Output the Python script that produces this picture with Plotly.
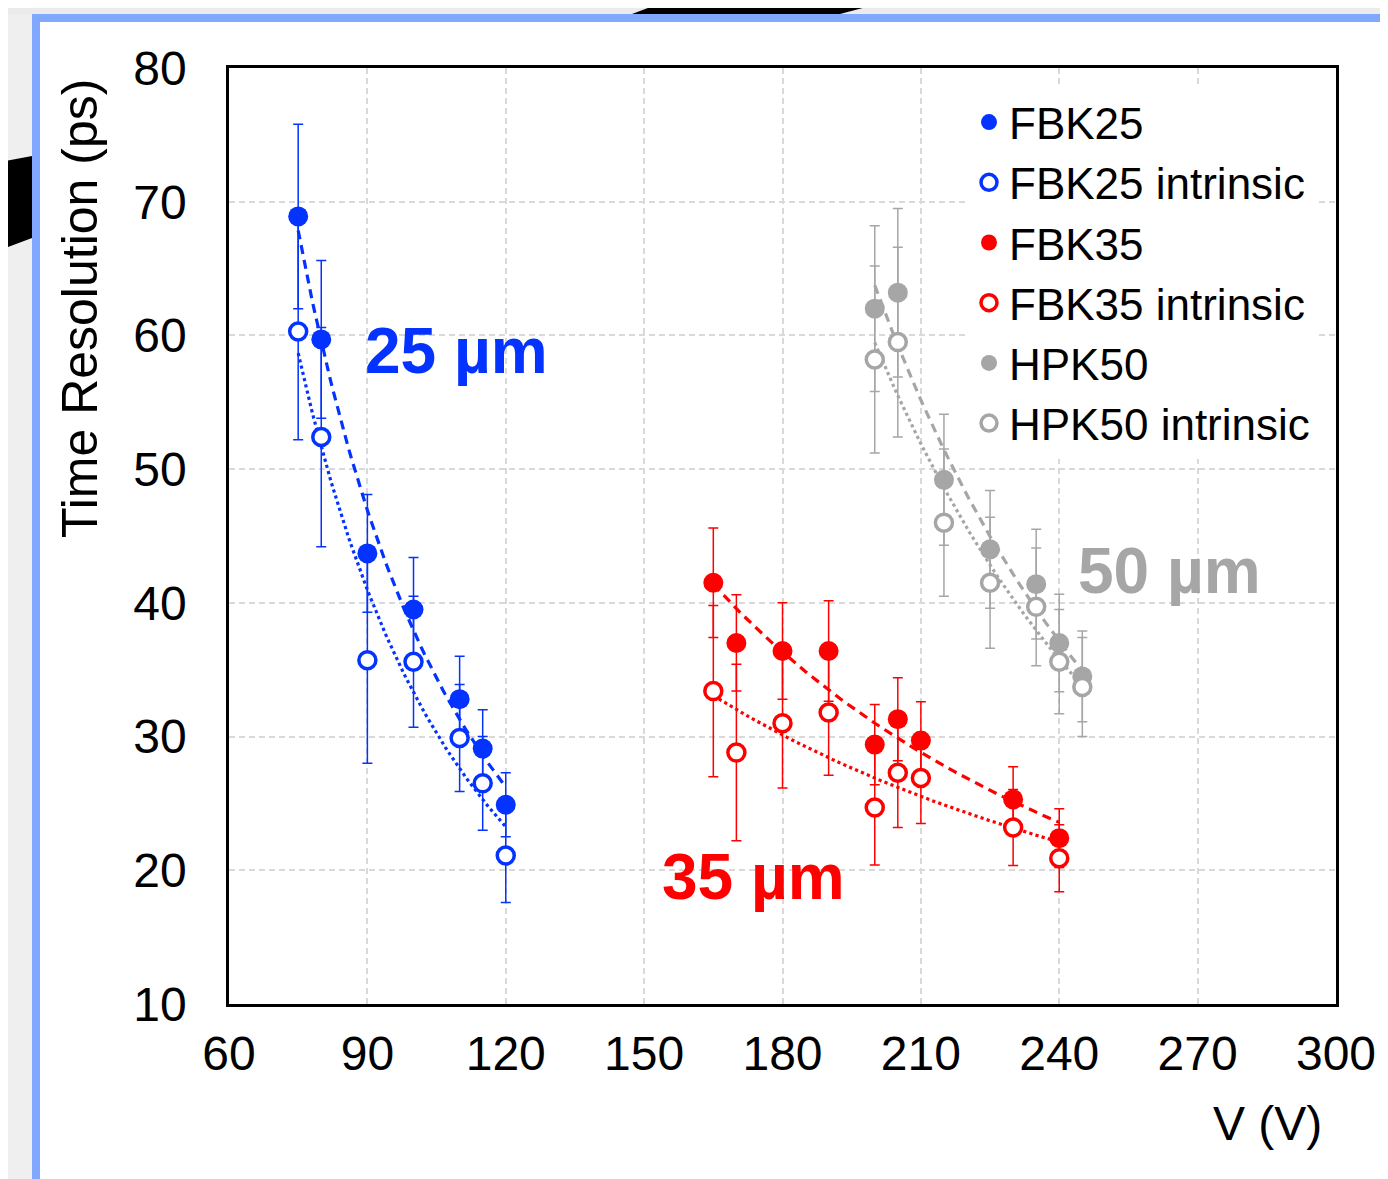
import numpy as np
import plotly.graph_objects as go

# bias voltage (V) and time resolution (ps)
fbk25_v = [75, 80, 90, 100, 110, 115, 120]
fbk25_t = [68.9, 59.7, 43.7, 39.5, 32.8, 29.1, 24.9]
fbk25_err = [6.9, 5.9, 4.4, 3.9, 3.2, 2.9, 2.4]
fbk25i_t = [60.3, 52.4, 35.7, 35.6, 29.9, 26.5, 21.1]
fbk25i_err = [8.1, 8.2, 7.7, 4.9, 4.0, 3.5, 3.5]

fbk35_v = [165, 170, 180, 190, 200, 205, 210, 230, 240]
fbk35_t = [41.5, 37.0, 36.4, 36.4, 29.4, 31.3, 29.7, 25.3, 22.4]
fbk35_err = [4.1, 3.6, 3.6, 3.75, 3.0, 3.1, 2.9, 2.45, 2.2]
fbk35i_t = [33.4, 28.8, 31.0, 31.8, 24.7, 27.3, 26.9, 23.2, 20.9]
fbk35i_err = [6.4, 6.6, 4.85, 4.7, 4.3, 4.1, 3.4, 2.85, 2.5]

hpk50_v = [200, 205, 215, 225, 235, 240, 245]
hpk50_t = [62.0, 63.2, 49.2, 44.0, 41.4, 37.0, 34.5]
hpk50_err = [6.2, 6.3, 4.9, 4.4, 4.1, 3.65, 3.4]
hpk50i_t = [58.2, 59.5, 46.0, 41.5, 39.7, 35.6, 33.7]
hpk50i_err = [7.0, 7.1, 5.5, 4.9, 4.4, 3.9, 3.7]

BLUE = "#0433ff"
RED = "#ff0000"
GRAY = "#a6a6a6"
FONT = "Liberation Sans, Arial, sans-serif"

# the page body adds an 8px margin, so the figure is drawn 8px smaller
OFF = 8
W, H = 1388 - OFF, 1179 - OFF
L, R, T, B = 229 - OFF, 1336 - OFF, 68 - OFF, 1004 - OFF


def px(x):
    # screen x (reference pixels) -> paper x
    return (x - OFF - L) / (R - L)


def py(y):
    return 1 - (y - OFF - T) / (B - T)


def power_fit(v, t):
    # Excel-style power trendline
    b, a = np.polyfit(np.log(v), np.log(t), 1)
    xs = np.linspace(min(v), max(v), 80)
    return xs, np.exp(a) * xs ** b


fig = go.Figure()

series = [
    ("FBK25", fbk25_v, fbk25_t, fbk25_err, BLUE, False, "dash"),
    ("FBK25 intrinsic", fbk25_v, fbk25i_t, fbk25i_err, BLUE, True, "dot"),
    ("FBK35", fbk35_v, fbk35_t, fbk35_err, RED, False, "dash"),
    ("FBK35 intrinsic", fbk35_v, fbk35i_t, fbk35i_err, RED, True, "dot"),
    ("HPK50", hpk50_v, hpk50_t, hpk50_err, GRAY, False, "dash"),
    ("HPK50 intrinsic", hpk50_v, hpk50i_t, hpk50i_err, GRAY, True, "dot"),
]

for i, (name, v, t, err, col, hollow, dash) in enumerate(series):
    xs, ys = power_fit(v, t)
    fig.add_trace(go.Scatter(x=xs, y=ys, mode="lines", showlegend=False,
                             line=dict(color=col, width=3.2,
                                       dash="9px,6px" if dash == "dash" else "dot"),
                             hoverinfo="skip"))
    if hollow:
        marker = dict(symbol="circle", size=17, color="white",
                      line=dict(color=col, width=3.5))
    else:
        marker = dict(symbol="circle", size=20, color=col,
                      line=dict(width=0))
    fig.add_trace(go.Scatter(x=v, y=t, mode="markers", name=name,
                             marker=marker, legendrank=i + 1,
                             legendgroup=name,
                             error_y=dict(type="data", array=err, visible=True,
                                          color=col, thickness=1.5, width=5)))

# thickness labels
for txt, x, y, col in [("25 µm", 109.4, 58.8, BLUE),
                       ("35 µm", 173.8, 19.5, RED),
                       ("50 µm", 264.0, 42.4, GRAY)]:
    fig.add_annotation(x=x, y=y, text="<b>" + txt + "</b>", showarrow=False,
                       font=dict(family=FONT, size=64, color=col))

fig.add_annotation(x=px(80), y=py(309), xref="paper", yref="paper",
                   xanchor="center", yanchor="middle",
                   text="Time Resolution (ps)", textangle=-90, showarrow=False,
                   font=dict(family=FONT, size=50, color="black"))
fig.add_annotation(x=px(1267), y=py(1123), xref="paper", yref="paper",
                   xanchor="center", yanchor="middle",
                   text="V (V)", showarrow=False,
                   font=dict(family=FONT, size=48, color="black"))


def rect(x0, x1, y0, y1, col):
    return dict(type="rect", xref="paper", yref="paper",
                x0=px(x0), x1=px(x1), y0=py(y1), y1=py(y0),
                fillcolor=col, line_width=0, layer="below")


def poly(pts, col):
    path = "M " + " L ".join("%f,%f" % (px(x), py(y)) for x, y in pts) + " Z"
    return dict(type="path", xref="paper", yref="paper", path=path,
                fillcolor=col, line_width=0, layer="below")


# slide decoration around the chart: grey page, black band, blue frame
shapes = [
    rect(0, 32, 0, 1179, "#efefef"),
    rect(0, 1388, 0, 14, "#ebebeb"),
    poly([(0, 162), (32, 156), (32, 238), (0, 250)], "black"),
    poly([(632, 14), (669, 0), (893, 0), (840, 14)], "black"),
    rect(32, 40, 14, 1179, "#80a8ff"),
    rect(32, 1388, 14, 22, "#80a8ff"),
]

fig.update_layout(
    width=W, height=H,
    margin=dict(l=L, r=W - R, t=T, b=H - B),
    paper_bgcolor="white", plot_bgcolor="white",
    font=dict(family=FONT, color="black"),
    shapes=shapes,
    showlegend=True,
    legend=dict(x=px(969), y=py(87), xanchor="left", yanchor="top",
                bgcolor="white", borderwidth=0, traceorder="grouped",
                tracegroupgap=0, font=dict(family=FONT, size=44, color="black"),
                itemsizing="trace"),
)

fig.update_xaxes(range=[60, 300], tickvals=list(range(60, 301, 30)),
                 showgrid=True, gridcolor="#d9d9d9", gridwidth=2,
                 griddash="6px,4px", zeroline=False,
                 showline=True, linecolor="black", linewidth=2.5, mirror=True,
                 ticks="", tickfont=dict(family=FONT, size=48),
                 ticklabelstandoff=6)
fig.update_yaxes(range=[10, 80], tickvals=list(range(10, 81, 10)),
                 showgrid=True, gridcolor="#d9d9d9", gridwidth=2,
                 griddash="6px,4px", zeroline=False,
                 showline=True, linecolor="black", linewidth=2.5, mirror=True,
                 ticks="", tickfont=dict(family=FONT, size=48),
                 ticklabelstandoff=30)

fig.write_html("out.html")
